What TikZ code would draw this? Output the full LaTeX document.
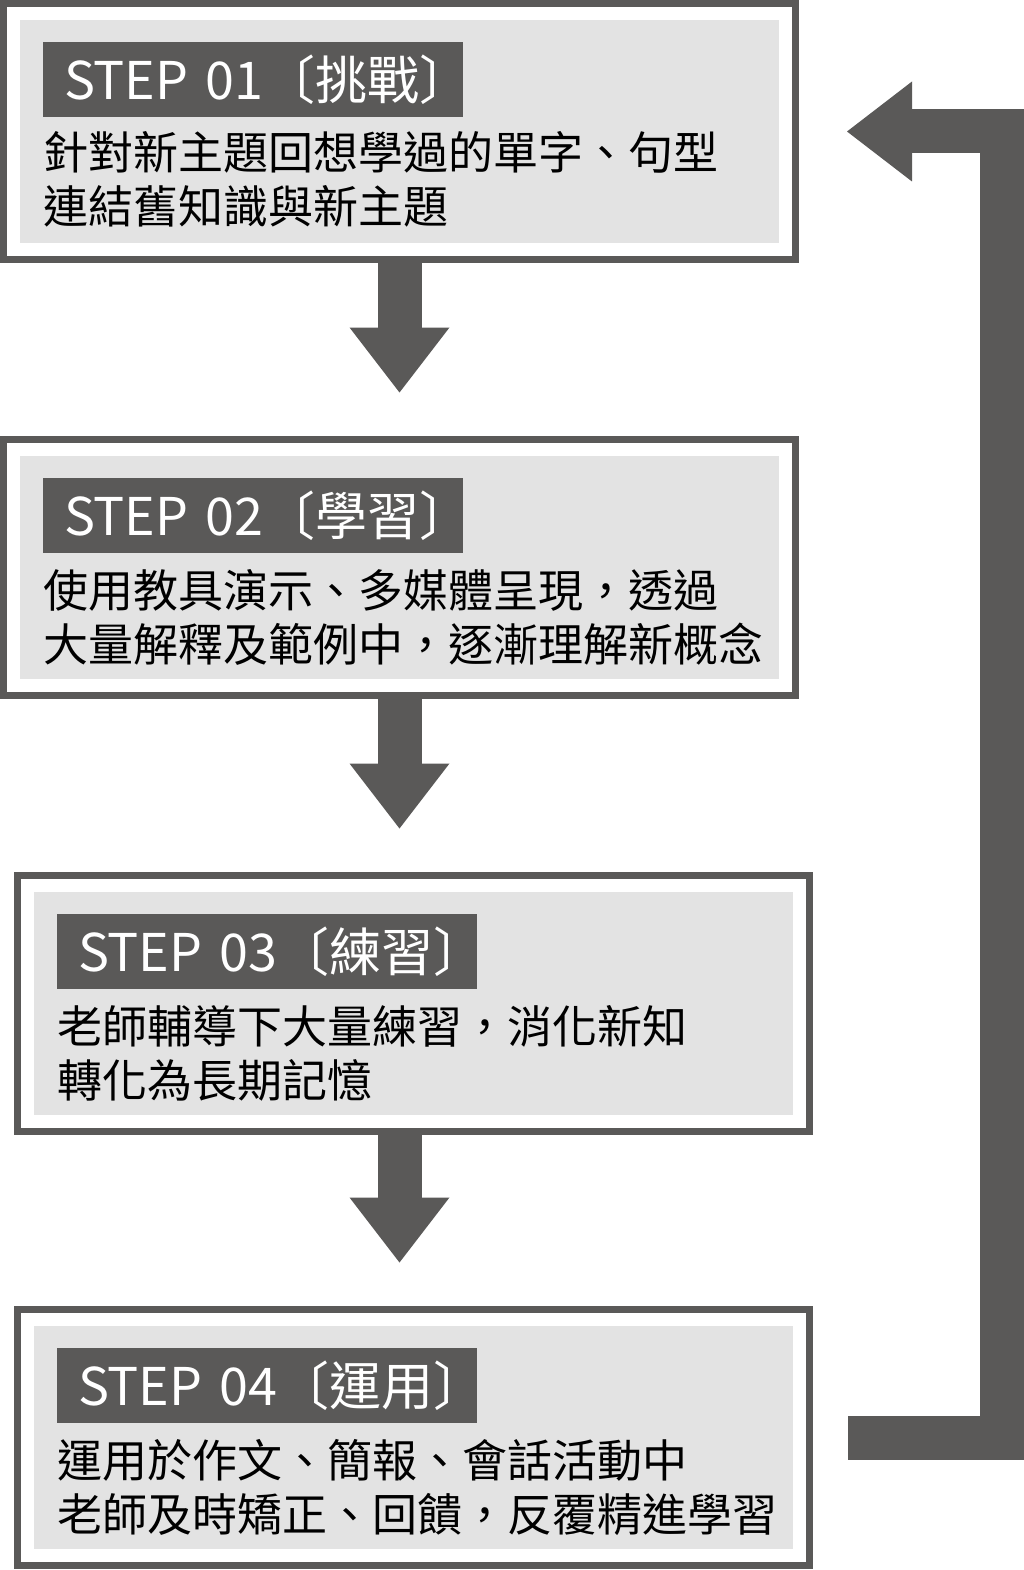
\documentclass[tikz,border=0pt]{standalone}
\usepackage{fontspec}
\setmainfont{Noto Sans CJK TC}
\usepackage{tikz}
\usetikzlibrary{arrows.meta,positioning}
\definecolor{stepdark}{RGB}{90,89,88}
\definecolor{stepfill}{RGB}{227,227,227}
\tikzset{
      stepbox/.style = {rectangle, draw=stepdark, line width=7pt, fill=white,
        minimum width=792pt, minimum height=256pt, inner sep=0pt, outer sep=0pt,
        path picture={\fill[stepfill] ([shift={(16.5pt,-16.5pt)}]path picture bounding box.north west)
          rectangle ([shift={(-16.5pt,16.5pt)}]path picture bounding box.south east);}},
      steptag/.style = {fill=stepdark, text=white, minimum height=75pt, text width=420pt,
        inner xsep=0pt, inner ysep=0pt, outer sep=0pt, align=left,
        execute at begin node=\hspace*{21pt}, font=\fontsize{52pt}{52pt}\selectfont},
      steptext/.style = {inner sep=0pt, outer sep=0pt, align=left, font=\fontsize{45pt}{54pt}\selectfont},
      flow/.style = {stepdark, line width=44pt, line join=miter,
        -{Triangle[length=65pt,width=100pt,line width=0pt]}},
    }

\begin{document}
\begin{tikzpicture}[x=1pt,y=1pt,node distance=180pt]
        \useasboundingbox (0,0) rectangle (1024,-1570);
        \node[stepbox] (s1) at (399.5,-131.5) {};
        \node[stepbox, below=of s1] (s2) {};
        \node[stepbox, below=of s2, xshift=14pt] (s3) {};
        \node[stepbox, below=178pt of s3] (s4) {};

        \node[steptag, below right=38.5pt and 39.5pt of s1.north west] (t1) {STEP~01〔挑戰〕};
        \node[steptext, below=14pt of t1.south west, anchor=north west] (b1) {針對新主題回想學過的單字、句型\\連結舊知識與新主題};
        \node[steptag, below right=38.5pt and 39.5pt of s2.north west] (t2) {STEP~02〔學習〕};
        \node[steptext, below=16pt of t2.south west, anchor=north west] (b2) {使用教具演示、多媒體呈現，透過\\大量解釋及範例中，逐漸理解新概念};
        \node[steptag, below right=38.5pt and 39.5pt of s3.north west] (t3) {STEP~03〔練習〕};
        \node[steptext, below=16pt of t3.south west, anchor=north west] (b3) {老師輔導下大量練習，消化新知\\轉化為長期記憶};
        \node[steptag, below right=38.5pt and 39.5pt of s4.north west] (t4) {STEP~04〔運用〕};
        \node[steptext, below=16pt of t4.south west, anchor=north west] (b4) {運用於作文、簡報、會話活動中\\老師及時矯正、回饋，反覆精進學習};

        \path (s1.south) edge[flow, shorten >=47pt] (s2.north);
        \path (s2.south) edge[flow, shorten >=47pt] (s2.south |- s3.north);
        \path (s2.south |- s3.south) edge[flow, shorten >=47pt] (s2.south |- s4.north);
        \draw[flow] ([xshift=38.5pt]s4.east) -| ([xshift=206pt]s1.east) -- ([xshift=51.5pt]s1.east);
\end{tikzpicture}
\end{document}
